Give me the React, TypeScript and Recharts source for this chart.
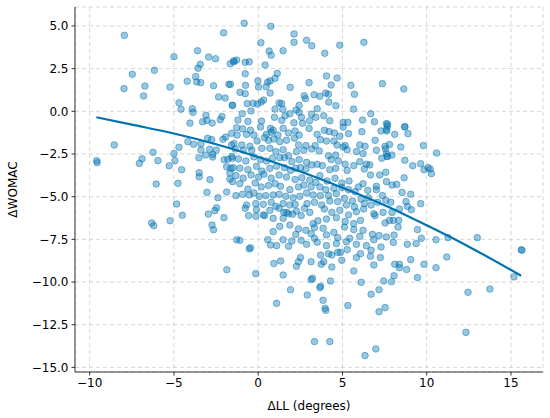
import React from "react";
import { ScatterChart, Scatter, XAxis, YAxis, CartesianGrid } from "recharts";

// ΔLL (degrees) vs ΔWOMAC
const upperPoints: [number, number][] = [
  [-7.94, 4.45], [-5.0, 3.2], [-2.05, 4.6], [-3.6, 3.55], [-2.94, 3.18], [-2.53, 3.08], [-3.44, 2.75],
  [-3.57, 2.52], [-6.16, 2.4], [-7.47, 2.17], [-3.71, 2.03], [-4.21, 1.76], [-3.65, 1.72], [-3.41, 1.68],
  [-6.72, 1.48], [-5.23, 1.42], [-7.96, 1.33], [-2.65, 1.5], [-1.74, 1.58], [-1.66, 2.79], [-1.46, 2.95],
  [-6.8, 0.9], [-2.35, 0.84], [-1.96, 0.78], [-4.7, 0.5], [-1.54, 0.35], [-4.58, 0.12], [-3.91, 0.15],
  [-3.87, -0.06], [-3.1, -0.23], [-2.15, -0.3], [-2.25, -0.49], [-4.05, -0.69], [-3.3, -0.61], [-3.04, -0.53],
  [-2.73, -0.69],
  [-0.83, 5.16], [0.75, 4.98], [2.13, 4.53], [0.16, 4.02], [2.13, 4.04], [2.87, 4.16], [3.18, 3.84],
  [4.84, 3.87], [6.27, 4.04], [1.48, 3.55], [0.65, 3.53], [0.77, 3.28], [3.95, 3.4], [-1.44, 2.9],
  [-1.28, 3.0], [-0.77, 2.87], [-0.53, 2.9], [0.41, 2.71], [-0.77, 2.2], [1.13, 2.22], [1.0, 1.93],
  [4.05, 2.07], [4.68, 1.95], [-0.02, 1.79], [0.56, 1.7], [0.71, 1.78], [3.02, 1.68], [4.33, 1.54],
  [5.5, 1.52], [7.37, 1.62], [-0.75, 1.52], [0.02, 1.42], [0.47, 1.44], [1.9, 1.4], [-1.64, 1.58],
  [-1.08, 1.11], [-0.77, 1.03], [0.71, 1.07], [2.73, 0.91], [3.32, 0.97], [3.66, 0.88], [4.01, 1.07],
  [4.17, 1.0], [5.71, 1.0], [2.81, 0.74], [0.32, 0.66], [0.18, 0.54], [-0.3, 0.47], [-0.04, 0.43],
  [-0.65, 0.45], [1.24, 0.49], [1.39, 0.45], [4.19, 0.54], [-1.52, 0.35], [2.43, 0.35], [4.61, 0.33],
  [5.66, 0.13], [1.0, 0.13], [1.46, 0.12], [3.5, 0.15], [2.25, 0.08], [-0.43, 0.02], [-0.95, -0.14],
  [3.17, -0.16], [2.43, -0.06], [3.89, -0.26], [6.68, -0.14], [1.88, -0.14], [1.6, -0.26], [0.97, -0.35],
  [2.57, -0.35], [3.42, -0.35], [-1.2, -0.51], [-0.61, -0.59], [0.2, -0.57], [1.4, -0.53], [2.12, -0.67],
  [3.05, -0.55], [4.25, -0.55], [5.04, -0.65], [5.32, -0.65], [6.19, -0.51], [6.9, -0.61], [7.61, -0.72],
  [0.73, -1.0], [2.63, -0.7], [8.64, 1.31], [7.67, -0.76], [8.7, -0.9],
];

const leftMiddlePoints: [number, number][] = [
  [-8.54, -1.97], [-9.58, -2.89], [-9.56, -3.01], [-6.89, -2.78], [-7.05, -3.05], [-6.24, -2.4], [-5.95, -2.89],
  [-5.0, -2.48], [-4.7, -2.11], [-4.94, -2.89], [-5.28, -3.19], [-4.54, -3.42], [-4.17, -1.78], [-3.83, -1.93],
  [-3.4, -1.9], [-3.4, -2.27], [-3.12, -2.56], [-3.52, -2.72], [-2.88, -2.23], [-2.49, -2.27], [-2.7, -2.52],
  [-2.7, -2.68], [-3.0, -1.58], [-2.76, -1.66], [-2.09, -1.64], [-1.93, -1.51], [-1.58, -1.29], [-1.58, -1.97],
  [-2.02, -2.84], [-1.8, -2.81], [-1.54, -2.75], [-1.87, -3.25], [-1.62, -3.34], [-3.5, -3.6], [-3.5, -3.83],
  [-2.86, -4.0], [-1.68, -3.97], [-6.05, -4.26], [-4.76, -4.22], [-3.04, -4.75], [-1.87, -4.73], [-2.39, -5.06],
  [-4.84, -5.43], [-2.47, -5.65], [-2.57, -5.82], [-2.96, -6.02], [-4.5, -6.09], [-2.03, -6.23], [-5.23, -6.41],
  [-6.32, -6.54], [-6.2, -6.7], [-2.74, -6.66], [-2.65, -6.94],
];

const centralPoints: [number, number][] = [
  [-1.28, -0.96], [-0.93, -1.03], [-0.46, -1.11], [0.14, -0.92], [0.89, -1.11], [1.48, -1.0], [1.8, -1.27],
  [2.19, -1.15], [3.02, -1.0], [3.93, -1.11], [4.21, -1.19], [5.04, -0.92], [5.36, -1.31], [6.15, -1.19],
  [7.29, -1.15], [7.61, -1.07], [-1.25, -1.39], [-0.69, -1.35], [-0.26, -1.39], [0.49, -1.35], [0.77, -1.23],
  [1.17, -1.39], [2.43, -1.39], [3.5, -1.35], [4.52, -1.27], [4.84, -1.46],
  [-1.44, -1.89], [-0.97, -1.97], [-0.49, -2.05], [-0.06, -1.74], [0.38, -1.54], [0.61, -1.7], [0.93, -1.62],
  [1.28, -1.78], [1.68, -1.7], [2.15, -1.58], [2.39, -1.97], [2.83, -2.01], [3.38, -2.01], [3.69, -1.66],
  [4.05, -1.74], [4.49, -1.74], [4.68, -1.97], [5.04, -2.09], [5.16, -2.01], [6.03, -1.97], [6.34, -2.05],
  [6.94, -1.7], [7.53, -2.05], [-1.36, -2.21], [-0.89, -2.28], [-0.38, -2.28], [0.22, -2.17], [0.69, -2.17],
  [1.05, -2.36], [1.48, -2.25], [1.8, -2.6], [2.27, -2.36], [2.71, -2.28], [3.18, -2.21], [3.62, -2.32],
  [4.17, -2.6], [4.6, -2.56], [5.28, -2.25], [5.83, -2.36], [6.22, -2.48], [7.01, -2.28], [7.61, -2.48],
  [-1.56, -2.64], [-1.17, -2.79], [-0.73, -2.91], [-0.26, -2.67], [0.14, -2.83], [0.49, -2.91], [0.85, -2.75],
  [1.28, -2.71], [1.56, -2.71], [2.0, -2.95], [2.43, -2.83], [2.87, -2.99], [3.18, -3.14], [3.5, -3.1],
  [3.81, -3.18], [4.33, -2.83], [4.76, -2.91], [5.16, -3.1], [5.67, -3.18], [6.03, -2.95], [6.42, -3.1],
  [6.62, -3.14], [7.33, -2.75], [7.65, -2.64], [-1.48, -3.3], [-1.09, -3.34], [-0.61, -3.42], [-0.1, -3.22],
  [0.22, -3.5], [0.69, -3.34], [1.09, -3.22], [1.56, -3.3], [1.92, -3.46], [2.23, -3.34], [2.51, -3.3],
  [2.83, -3.38], [4.25, -3.42], [4.6, -3.34], [5.28, -3.46], [6.3, -3.38], [6.66, -3.73], [7.21, -3.73],
  [7.57, -3.57],
  [-1.68, -3.61], [-1.32, -3.77], [-0.89, -3.92], [-0.42, -3.73], [0.02, -3.85], [0.34, -3.69], [0.77, -3.92],
  [1.24, -3.73], [1.68, -3.85], [2.19, -4.0], [2.59, -3.89], [3.06, -4.04], [3.42, -4.16], [3.66, -3.77],
  [4.09, -4.08], [4.56, -3.92], [4.96, -4.2], [5.39, -4.08], [5.95, -4.43], [6.22, -4.24], [7.01, -4.39],
  [7.61, -4.12], [-1.52, -4.12], [-1.09, -4.24], [-0.61, -4.55], [-0.18, -4.2], [0.18, -4.43], [0.61, -4.35],
  [1.01, -4.24], [1.32, -4.39], [1.88, -4.59], [2.39, -4.43], [2.71, -4.32], [3.14, -4.43], [3.66, -4.43],
  [4.01, -4.59], [4.49, -4.51], [4.96, -4.47], [5.36, -4.59], [5.75, -4.71], [6.5, -4.63], [7.01, -4.59],
  [7.37, -4.94],
  [-1.32, -4.94], [-0.93, -4.86], [-0.53, -4.9], [-0.26, -4.78], [0.06, -4.98], [0.45, -4.94], [0.89, -4.9],
  [1.24, -4.86], [1.64, -4.98], [2.07, -5.06], [2.47, -4.98], [2.87, -4.78], [3.26, -4.9], [3.69, -4.94],
  [4.17, -4.94], [4.64, -4.82], [5.12, -5.1], [5.59, -5.25], [6.11, -5.14], [6.54, -5.06], [7.09, -5.33],
  [7.57, -5.21], [-0.69, -5.49], [-0.14, -5.41], [0.3, -5.45], [0.77, -5.33], [1.05, -5.57], [1.48, -5.41],
  [1.88, -5.49], [2.19, -5.45], [2.9, -5.41], [3.34, -5.33], [3.77, -5.49], [4.25, -5.25], [4.72, -5.29],
  [5.24, -5.49], [5.71, -5.6], [6.3, -5.41], [6.7, -5.49],
  [-0.77, -5.68], [-0.1, -5.76], [0.3, -6.07], [0.69, -5.8], [1.24, -5.68], [1.52, -5.92], [1.8, -6.0],
  [2.27, -5.84], [2.75, -5.68], [3.06, -5.92], [3.93, -5.72], [4.37, -5.92], [4.84, -5.8], [5.36, -6.07],
  [5.83, -5.88], [6.26, -5.72], [6.86, -6.0], [7.41, -5.92], [-0.57, -6.11], [-0.14, -6.15], [0.38, -6.11],
  [0.89, -6.27], [1.68, -5.92], [2.04, -6.03], [2.55, -6.11], [3.54, -6.42], [4.05, -6.31], [4.64, -6.23],
  [5.16, -6.46], [5.67, -6.58], [6.07, -6.39], [6.94, -6.11], [7.53, -6.54], [1.48, -6.27], [3.26, -6.58],
  [1.28, -6.74], [1.88, -6.66], [2.39, -6.89], [2.83, -6.97], [3.34, -6.82], [3.85, -6.85], [4.49, -7.09],
  [5.12, -6.78], [5.67, -6.93], [6.22, -6.97], [6.78, -7.21], [7.17, -7.28], [7.61, -7.36], [0.89, -7.05],
  [2.23, -7.21], [3.14, -7.17], [3.34, -7.44], [4.05, -7.24], [4.72, -7.4], [5.43, -7.44], [6.03, -7.32],
  [-1.28, -7.52], [-1.09, -7.56], [0.57, -7.52], [1.48, -7.52], [2.0, -7.6], [2.55, -7.56], [2.87, -7.79],
  [3.5, -7.67], [4.05, -7.87], [4.64, -7.75], [5.24, -7.64], [5.83, -7.79], [6.42, -7.87], [7.29, -7.95],
  [0.73, -7.83], [1.09, -7.87], [-0.46, -7.99], [1.8, -7.91], [6.86, -7.52],
];

const rightMiddlePoints: [number, number][] = [
  [7.67, -0.88], [7.63, -1.15], [8.1, -1.35], [8.7, -0.92], [8.89, -1.31], [7.79, -1.94], [7.55, -2.21],
  [8.46, -2.09], [9.8, -2.01], [10.59, -2.44], [7.67, -2.64], [7.94, -2.56], [8.7, -2.87], [9.17, -3.19],
  [9.64, -3.07], [9.84, -3.42], [10.08, -3.3], [10.2, -3.38], [10.28, -3.65], [8.66, -3.89], [7.94, -4.32],
  [8.22, -4.28], [8.54, -4.75], [9.05, -4.86], [7.87, -5.33], [8.77, -5.29], [8.85, -5.57], [9.64, -5.41],
  [8.38, -5.72], [9.09, -5.76], [7.94, -5.92], [7.79, -6.39], [8.02, -6.39], [8.34, -6.39], [8.3, -6.78],
  [9.45, -6.93], [8.06, -7.25], [9.68, -7.44], [10.55, -7.52], [11.26, -7.4], [13.0, -7.4], [8.02, -7.68],
  [8.85, -7.79], [9.37, -7.74], [15.61, -8.11],
];

const lowerPoints: [number, number][] = [
  [-1.86, -9.28], [-0.53, -8.06], [0.93, -8.92], [1.33, -8.77], [2.27, -9.08], [2.39, -8.81], [2.51, -8.57],
  [3.14, -8.81], [3.7, -8.42], [3.89, -8.81], [3.74, -8.96], [4.17, -8.34], [4.37, -8.42], [4.72, -8.26],
  [4.37, -9.12], [4.96, -8.73], [4.88, -8.26], [5.28, -8.1], [5.83, -8.57], [6.07, -8.34], [6.7, -8.14],
  [6.66, -8.49], [7.25, -8.57], [6.86, -9.0], [5.67, -9.35], [-0.14, -9.51], [1.48, -9.59], [3.14, -9.86],
  [3.22, -9.78], [4.29, -9.94], [6.11, -10.02], [7.45, -9.94], [1.92, -10.45], [3.66, -10.33], [3.7, -10.25],
  [2.91, -10.76], [7.17, -10.45], [6.7, -10.72], [1.09, -11.25], [3.85, -11.07], [3.97, -11.54], [4.01, -11.66],
  [5.32, -11.38], [7.53, -11.5], [7.17, -11.74], [3.34, -13.49], [4.25, -13.49], [6.98, -13.92], [6.34, -14.31],
  [8.1, -8.96], [8.38, -8.96], [8.38, -9.16], [8.81, -9.27], [9.05, -8.69], [8.06, -9.63], [7.91, -9.98],
  [9.45, -9.74], [9.84, -8.96], [10.55, -9.16], [11.19, -8.53], [12.45, -10.6], [13.75, -10.41], [15.18, -9.7],
  [15.65, -8.14], [12.33, -12.95],
];

// fitted trend, sampled from the drawn curve
const fitX = [-9.6, -7.5, -5, -2.5, 0, 2.5, 5, 7.5, 10, 12.5, 15.6];
const fitY = [-0.35, -0.78, -1.3, -1.93, -2.68, -3.53, -4.48, -5.5, -6.68, -7.93, -9.63];

const xTicks = [-10, -5, 0, 5, 10, 15];
const yTicks = [-15, -12.5, -10, -7.5, -5, -2.5, 0, 2.5, 5];

const BLUE = "#0072B2";
const FONT = "DejaVu Sans, sans-serif";

const scatterData = [...upperPoints, ...leftMiddlePoints, ...centralPoints, ...rightMiddlePoints, ...lowerPoints]
  .map(([ll, womac]) => ({ ll, womac }));
const fitData = fitX.map((ll, i) => ({ ll, womac: fitY[i] }));

const minus = (s: string) => s.replace("-", "\u2212");

const Dot = (props: any) => {
  const { cx, cy } = props;
  if (cx == null || cy == null) return null;
  return (
    <circle cx={cx} cy={cy} r={3.3} fill={BLUE} fillOpacity={0.4}
      stroke={BLUE} strokeOpacity={0.45} strokeWidth={1} />
  );
};

const YLabel = ({ viewBox }: any) => {
  const cx = 13;
  const cy = viewBox.y + viewBox.height / 2;
  return (
    <text x={cx} y={cy} transform={`rotate(-90, ${cx}, ${cy})`} textAnchor="middle"
      dominantBaseline="central" fill="#000" fontSize={12} fontFamily={FONT}>
      ΔWOMAC
    </text>
  );
};

const tickStyle = { fill: "#000", fontSize: 12, fontFamily: FONT };

export default function App() {
  return (
    <div style={{ position: "fixed", left: 0, top: 0, width: 550, height: 418, background: "#fff" }}>
      <ScatterChart width={550} height={418} margin={{ top: 7, right: 7, bottom: 0, left: 0 }}>
        <CartesianGrid xAxisId="x" yAxisId="y" stroke="#cccccc" strokeDasharray="4 3" strokeWidth={0.8} />
        <XAxis
          xAxisId="x" type="number" dataKey="ll" domain={[-10.87, 16.9]} ticks={xTicks}
          allowDataOverflow height={46} tick={tickStyle} tickFormatter={(v) => minus(String(v))}
          stroke="#333" tickSize={3.5} tickMargin={3}
          label={{ value: "ΔLL (degrees)", position: "insideBottom", offset: 8, fill: "#000", fontSize: 12, fontFamily: FONT }}
        />
        <XAxis xAxisId="top" orientation="top" type="number" domain={[0, 1]} height={0} tick={false} tickLine={false} stroke="#333" />
        <YAxis
          yAxisId="y" type="number" dataKey="womac" domain={[-15.27, 6.11]} ticks={yTicks}
          allowDataOverflow width={75} tick={tickStyle} tickFormatter={(v) => minus(Number(v).toFixed(1))}
          stroke="#333" tickSize={3.5} tickMargin={3}
          label={<YLabel />}
        />
        <YAxis yAxisId="right" orientation="right" type="number" domain={[0, 1]} width={0} tick={false} tickLine={false} stroke="#333" />
        <Scatter xAxisId="x" yAxisId="y" data={scatterData} shape={<Dot />} isAnimationActive={false} />
        <Scatter
          xAxisId="x" yAxisId="y" data={fitData} shape={() => <g />}
          line={{ stroke: BLUE, strokeWidth: 2.2 }} lineJointType="monotoneX" isAnimationActive={false}
        />
      </ScatterChart>
    </div>
  );
}
